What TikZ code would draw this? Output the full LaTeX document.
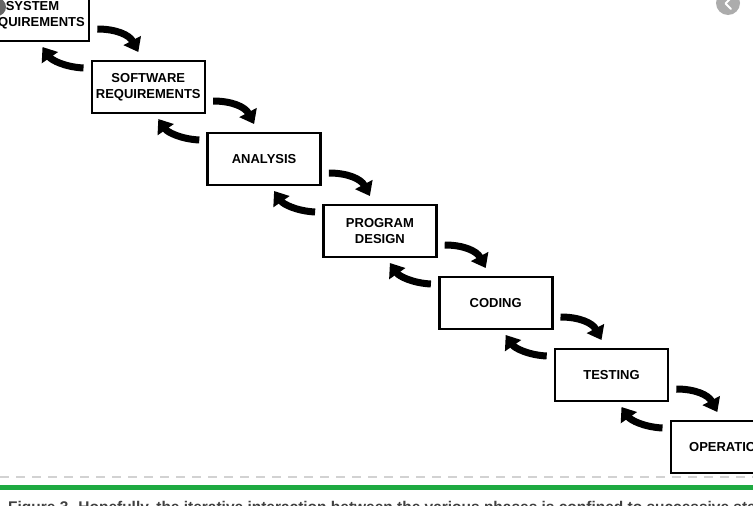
\documentclass[tikz,border=0pt]{standalone}
\usepackage{fontspec}
\setmainfont{Liberation Sans}
\usetikzlibrary{arrows.meta,calc}
\definecolor{capgreen}{RGB}{30,170,65}
\begin{document}
\begin{tikzpicture}[x=1pt,y=-1pt,
  phase/.style={draw, line width=2.6pt, minimum width=113pt, minimum height=52pt,
    inner sep=0pt, align=center, font=\fontsize{13}{15.5}\selectfont\bfseries},
  flow/.style={line width=7pt, -{Triangle[length=13pt,width=19pt]}},
  uibtn/.style={fill=gray!65},
]
\useasboundingbox (0,0) rectangle (753,506);
\clip (0,0) rectangle (753,506);
\fill[white] (0,0) rectangle (753,506);

% phases
\node[phase] (sr) at (32.5,15)  {SYSTEM\\REQUIREMENTS};
\node[phase] (sw) at (148.3,87) {SOFTWARE\\REQUIREMENTS};
\node[phase] (an) at (264.1,159) {ANALYSIS};
\node[phase] (pd) at (379.9,231) {PROGRAM\\DESIGN};
\node[phase] (co) at (495.7,303) {CODING};
\node[phase] (te) at (611.5,375) {TESTING};
\node[phase] (op) at (727.3,447) {OPERATION};

% forward and backward arrows
\foreach \a/\b in {sr/sw, sw/an, an/pd, pd/co, co/te, te/op}{
  \draw[flow] ($(\a.east)+(7,14)$) .. controls ($(\a.east)+(26,14)$) and ($(\a.east)+(39,20)$) .. ($(\a.east)+(48,37)$);
  \draw[flow] ($(\b.west)+(-7,-19)$) .. controls ($(\b.west)+(-26,-20)$) and ($(\b.west)+(-39,-27)$) .. ($(\b.west)+(-48,-40)$);
}

% UI remnants
\fill[uibtn] (728,3) circle (12);
\draw[white, line width=2pt, line cap=round, line join=round] (731,-2) -- (725.5,3.5) -- (731,9);
\fill[black!60] (-3,7) circle (9);

% separator lines
\draw[gray!35, line width=1.5pt, dash pattern=on 9pt off 7pt] (0,477) -- (753,477);
\draw[capgreen, line width=5pt] (0,487) -- (753,487);

% caption (cut off at the bottom)
\node[anchor=north west, inner sep=0pt, text=black!75] (cap) at (8,501.5)
  {\resizebox{770pt}{!}{\fontsize{14}{16}\selectfont\bfseries Figure 3. Hopefully, the iterative interaction between the various phases is confined to successive steps.}};
\end{tikzpicture}
\end{document}
